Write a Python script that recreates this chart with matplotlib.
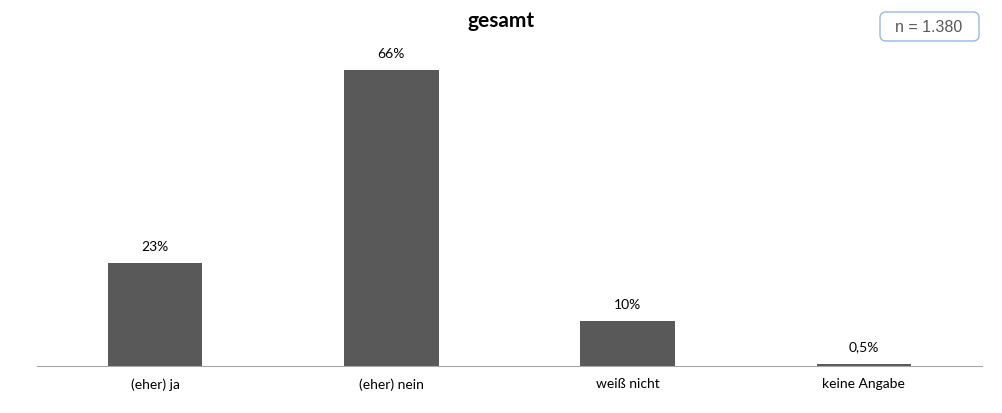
import numpy as np
import matplotlib.pyplot as plt
from matplotlib.patches import FancyBboxPatch

categories = ["(eher) ja", "(eher) nein", "weiß nicht", "keine Angabe"]
values = [23, 66, 10, 0.5]
labels = ["23%", "66%", "10%", "0,5%"]
n_text = "n = 1.380"

plt.rcParams['font.family'] = ['Lato', 'DejaVu Sans']

fig = plt.figure(figsize=(10.02, 4.14), dpi=100)
ax = fig.add_axes([37 / 1002, 47 / 414, 945 / 1002, 327 / 414])

x = np.arange(len(categories))
bars = ax.bar(x, values, width=0.4, color='#595959')

for b, lab in zip(bars, labels):
    ax.annotate(lab, (b.get_x() + b.get_width() / 2, b.get_height()),
                xytext=(0, 8), textcoords='offset points',
                ha='center', va='bottom', fontsize=10, color='#000000')

ax.set_xlim(-0.5, 3.5)
ax.set_ylim(0, 73)
ax.set_xticks(x)
ax.set_xticklabels(categories, fontsize=10)
ax.tick_params(axis='x', length=0, pad=8)
ax.set_yticks([])
for s in ['top', 'right', 'left']:
    ax.spines[s].set_visible(False)
ax.spines['bottom'].set_color('#a6a6a6')

fig.text(0.5, 1 - 21 / 414, "gesamt", ha='center', va='center', fontsize=15, fontweight='bold')

# n box in figure pixel coords
box = FancyBboxPatch((880 / 1002, 1 - 42 / 414), 99 / 1002, 29 / 414,
                     boxstyle='round,pad=0,rounding_size=0.006',
                     transform=fig.transFigure, fc='white', ec='#9db8dd', lw=1,
                     mutation_aspect=1002 / 414)
fig.patches.append(box)
fig.text(929 / 1002, 1 - 27 / 414, n_text, ha='center', va='center', fontsize=11.5,
         color='#595959', family=['Liberation Sans', 'DejaVu Sans'])

fig.savefig('out.png', dpi=100)
